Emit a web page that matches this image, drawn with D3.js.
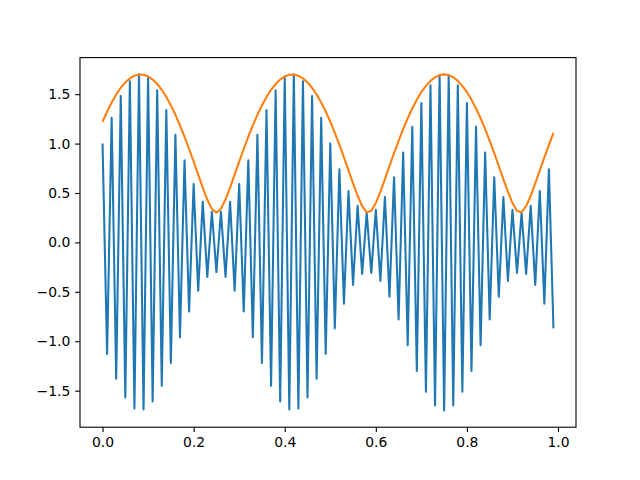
<!DOCTYPE html>
<html>
<head>
<meta charset="utf-8">
<script src="https://cdn.jsdelivr.net/npm/d3@7"></script>
<style>
  html, body { margin: 0; padding: 0; background: #fff; }
  svg { display: block; }
  text { font-family: "DejaVu Sans", sans-serif; }
</style>
</head>
<body>
<svg id="chart" width="640" height="480"></svg>
<script>
// Sample times (s), 0.00 .. 0.99
const t = [0.00,0.01,0.02,0.03,0.04,0.05,0.06,0.07,0.08,0.09,0.10,0.11,0.12,0.13,0.14,0.15,0.16,0.17,0.18,0.19,
0.20,0.21,0.22,0.23,0.24,0.25,0.26,0.27,0.28,0.29,0.30,0.31,0.32,0.33,0.34,0.35,0.36,0.37,0.38,0.39,
0.40,0.41,0.42,0.43,0.44,0.45,0.46,0.47,0.48,0.49,0.50,0.51,0.52,0.53,0.54,0.55,0.56,0.57,0.58,0.59,
0.60,0.61,0.62,0.63,0.64,0.65,0.66,0.67,0.68,0.69,0.70,0.71,0.72,0.73,0.74,0.75,0.76,0.77,0.78,0.79,
0.80,0.81,0.82,0.83,0.84,0.85,0.86,0.87,0.88,0.89,0.90,0.91,0.92,0.93,0.94,0.95,0.96,0.97,0.98,0.99];

// Signal (blue)
const signal = [1.00,-1.13,1.26,-1.38,1.48,-1.57,1.63,-1.68,1.70,-1.69,
1.67,-1.61,1.54,-1.45,1.34,-1.22,1.09,-0.96,0.83,-0.70,
0.59,-0.49,0.41,-0.35,0.31,-0.30,0.31,-0.35,0.41,-0.49,
0.59,-0.70,0.83,-0.96,1.09,-1.22,1.34,-1.45,1.54,-1.61,
1.67,-1.69,1.70,-1.68,1.63,-1.57,1.48,-1.38,1.26,-1.13,
1.00,-0.87,0.74,-0.62,0.52,-0.43,0.37,-0.32,0.30,-0.31,
0.33,-0.39,0.46,-0.55,0.66,-0.78,0.91,-1.04,1.17,-1.30,
1.41,-1.51,1.59,-1.65,1.69,-1.70,1.69,-1.65,1.59,-1.51,
1.41,-1.30,1.17,-1.04,0.91,-0.78,0.66,-0.55,0.46,-0.39,
0.33,-0.31,0.30,-0.32,0.37,-0.43,0.52,-0.62,0.74,-0.87];

// Envelope (orange)
const envelope = [1.221,1.324,1.416,1.497,1.565,1.619,1.660,1.687,1.699,1.697,
1.680,1.648,1.603,1.544,1.471,1.387,1.291,1.184,1.069,0.945,
0.817,0.685,0.555,0.434,0.339,0.300,0.339,0.434,0.555,0.685,
0.817,0.945,1.069,1.184,1.291,1.387,1.471,1.544,1.603,1.648,
1.680,1.697,1.699,1.687,1.660,1.619,1.565,1.497,1.416,1.324,
1.221,1.108,0.987,0.860,0.729,0.598,0.472,0.366,0.305,0.318,
0.398,0.513,0.641,0.773,0.903,1.028,1.147,1.256,1.356,1.444,
1.521,1.584,1.635,1.671,1.693,1.700,1.693,1.671,1.635,1.584,
1.521,1.444,1.356,1.256,1.147,1.028,0.903,0.773,0.641,0.513,
0.398,0.318,0.305,0.366,0.472,0.598,0.729,0.860,0.987,1.108];

const xTicks = [0.0, 0.2, 0.4, 0.6, 0.8, 1.0];
const yTicks = [-1.5, -1.0, -0.5, 0.0, 0.5, 1.0, 1.5];

const svg = d3.select("#chart");
const L = 80, R = 576, T = 57.6, B = 427.2;

const xmin = d3.min(t), xmax = d3.max(t);
const xm = (xmax - xmin) * 0.05;
const allY = signal.concat(envelope);
const ymin = d3.min(allY), ymax = d3.max(allY);
const ym = (ymax - ymin) * 0.05;

const x = d3.scaleLinear().domain([xmin - xm, xmax + xm]).range([L, R]);
const y = d3.scaleLinear().domain([ymin - ym, ymax + ym]).range([B, T]);

const clipId = "plotclip";
svg.append("clipPath").attr("id", clipId)
  .append("rect").attr("x", L).attr("y", T).attr("width", R - L).attr("height", B - T);

const line = (vals) => d3.line().x((d, i) => x(t[i])).y(d => y(d))(vals);

const g = svg.append("g").attr("clip-path", `url(#${clipId})`);
g.append("path").attr("d", line(signal))
  .attr("fill", "none").attr("stroke", "#1f77b4").attr("stroke-width", 2.08)
  .attr("stroke-linejoin", "round").attr("stroke-linecap", "butt");
g.append("path").attr("d", line(envelope))
  .attr("fill", "none").attr("stroke", "#ff7f0e").attr("stroke-width", 2.08)
  .attr("stroke-linejoin", "round").attr("stroke-linecap", "butt");

const fmt = d3.format(".1f");
const xAxis = svg.append("g").attr("transform", `translate(0,${B})`)
  .call(d3.axisBottom(x).tickValues(xTicks).tickFormat(fmt).tickSizeOuter(0).tickSize(4.86).tickPadding(4.86));
const yAxis = svg.append("g").attr("transform", `translate(${L},0)`)
  .call(d3.axisLeft(y).tickValues(yTicks).tickFormat(fmt).tickSizeOuter(0).tickSize(4.86).tickPadding(4.86));

[xAxis, yAxis].forEach(a => {
  a.select(".domain").remove();
  a.selectAll(".tick line").attr("stroke", "#000").attr("stroke-width", 1.11);
  a.selectAll(".tick text").attr("fill", "#000")
    .style("font-family", "'DejaVu Sans', sans-serif").style("font-size", "13.9px");
});

svg.append("rect").attr("x", L).attr("y", T).attr("width", R - L).attr("height", B - T)
  .attr("fill", "none").attr("stroke", "#000").attr("stroke-width", 1.11);
</script>
</body>
</html>
